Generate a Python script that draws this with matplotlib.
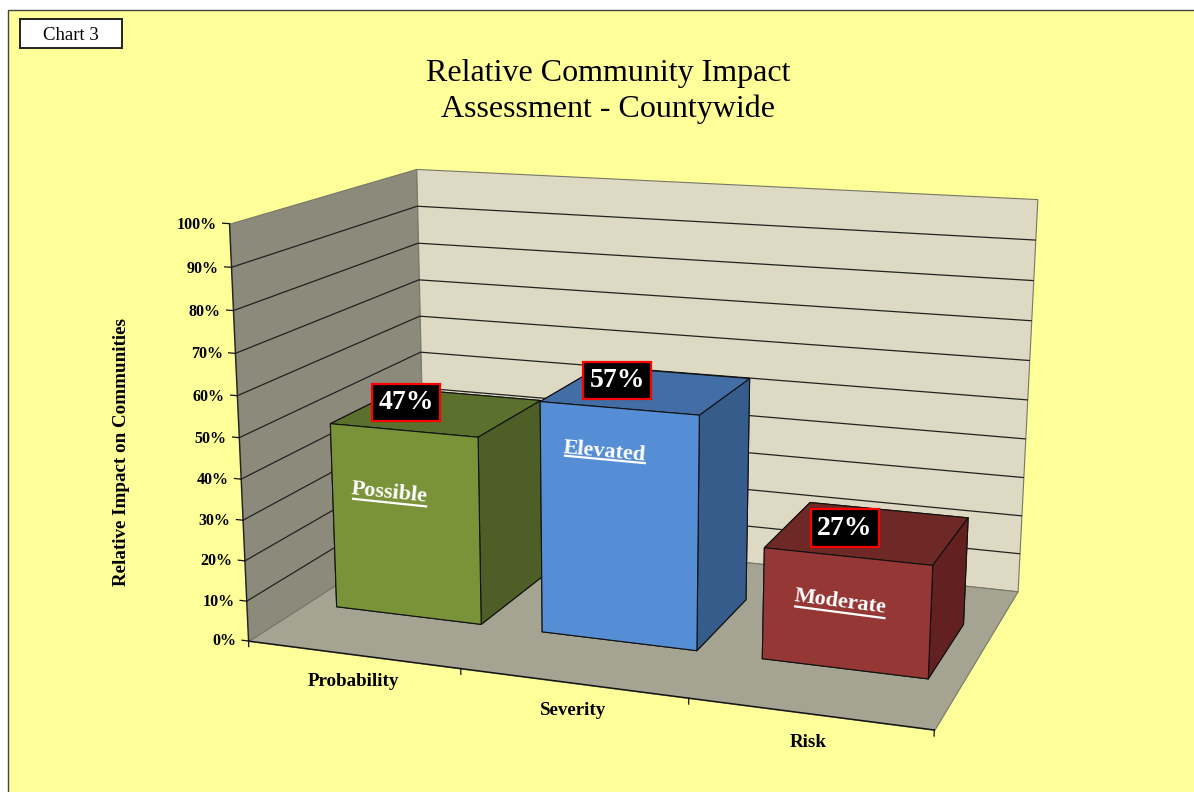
import matplotlib
matplotlib.use('Agg')
import matplotlib.pyplot as plt
import numpy as np
from matplotlib.patches import Rectangle
from mpl_toolkits.mplot3d import proj3d
from mpl_toolkits.mplot3d.art3d import Poly3DCollection

plt.rcParams['font.family'] = ['Liberation Serif', 'DejaVu Serif']

W, H = 1194, 792

# Chart data
categories = ['Probability', 'Severity', 'Risk']
values = [47, 57, 27]
ratings = ['Possible', 'Elevated', 'Moderate']
value_ticks = list(range(0, 101, 10))

front_colors = ['#7A9339', '#558ED5', '#953735']
top_colors = ['#5A702C', '#426EA5', '#6E2826']
side_colors = ['#4D5F27', '#355C8A', '#622120']

# Camera fitted from where the room's corners and axis ticks sit on the canvas (px)
room_points = [
    (0, 0, 0, 250, 640), (3, 0, 0, 934, 730), (3, 1, 0, 1018, 591), (0, 1, 0, 423, 528),
    (0, 0, 100, 228, 224), (0, 1, 100, 418, 169), (3, 1, 100, 1037, 199),
    (1, 0, 0, 461, 670), (2, 0, 0, 689, 698), (0, 0, 50, 239, 437),
]


def camera_matrix(points):
    rows, rhs = [], []
    for x, y, z, px, py in points:
        v = H - py
        rows.append([x, y, z, 1, 0, 0, 0, 0, -px * x, -px * y, -px * z])
        rhs.append(px)
        rows.append([0, 0, 0, 0, x, y, z, 1, -v * x, -v * y, -v * z])
        rhs.append(v)
    p = np.linalg.lstsq(np.array(rows, float), np.array(rhs, float), rcond=None)[0]
    r1, r2, r4 = p[:4], p[4:8], np.append(p[8:], 1.0)
    # third row only gives a depth for sorting the faces
    return np.array([r1, r2, r4 - [0, 0, 0, 1], r4])


fig = plt.figure(figsize=(W / 100, H / 100), dpi=100, facecolor='white')
fig.add_artist(Rectangle((8 / W, -0.01), 1.1, (H - 9.5) / H + 0.01, transform=fig.transFigure,
                         facecolor='#FFFF99', edgecolor='#444444', linewidth=1.0, zorder=-1))

# Axes3D forces a square box, so let it overflow the canvas vertically
ax = fig.add_axes([0, -(W - H) / 2 / H, 1, W / H], projection='3d', computed_zorder=False)
ax.set_axis_off()
ax.patch.set_visible(False)
ax.set_proj_type('ortho')  # keeps Line3D from clipping against the unit cube
ax.viewLim.intervalx = (0, W)
ax.viewLim.intervaly = (-(W - H) / 2, H + (W - H) / 2)
M = camera_matrix(room_points)
ax.get_proj = lambda: M


def label(x, y, z, s, along=None, **kw):
    # place text at a 3D point; along= turns it to follow a 3D direction
    px, py, _ = proj3d.proj_transform(x, y, z, M)
    angle = 0
    if along is not None:
        qx, qy, _ = proj3d.proj_transform(x + along[0], y + along[1], z + along[2], M)
        angle = np.degrees(np.arctan2(qy - py, qx - px))
    return ax.text2D(px, py, s, transform=ax.transData, rotation=angle, rotation_mode='anchor',
                     ha=kw.pop('ha', 'center'), va=kw.pop('va', 'center'), **kw)


# Walls and floor
left_wall = [(0, 0, 0), (0, 1, 0), (0, 1, 100), (0, 0, 100)]
back_wall = [(0, 1, 0), (3, 1, 0), (3, 1, 100), (0, 1, 100)]
floor = [(0, 0, 0), (3, 0, 0), (3, 1, 0), (0, 1, 0)]
for verts, color in [(left_wall, '#8C8A7A'), (back_wall, '#DDD9C3'), (floor, '#A5A391')]:
    ax.add_collection3d(Poly3DCollection([verts], facecolors=color, edgecolors='#77776A',
                                         linewidths=0.8, zorder=1))

# Gridlines run along the left wall, then across the back wall
for v in value_ticks[1:-1]:
    ax.plot([0, 0, 3], [0, 1, 1], [v, v, v], color='#222222', lw=0.9, zorder=2)

ax.plot([0, 3], [0, 0], [0, 0], color='#111111', lw=1.0, zorder=2)
ax.plot([0, 0], [0, 0], [0, 100], color='#222222', lw=1.0, zorder=2)

# Value axis ticks and labels
for v in value_ticks:
    ax.plot([-0.032, 0], [0, 0], [v, v], color='#111111', lw=0.9, zorder=2)
    label(-0.06, 0, v - 0.5, f'{v}%', ha='right', fontsize=11.5, fontweight='bold', zorder=9)

# Category ticks and labels
for k in range(4):
    ax.plot([k, k], [0, 0], [0, -1.4], color='#111111', lw=0.9, zorder=2)
for i, name in enumerate(categories):
    label(i + 0.5, 0, -6.6, name, fontsize=13.7, fontweight='bold', zorder=9)

# Bars
bar_x = 0.148
bar_w = 0.71
bar_y = 0.30
bar_d = 0.40
for i, v in enumerate(values):
    colors = ['#333333', top_colors[i], front_colors[i], '#333333', '#333333', side_colors[i]]
    ax.bar3d([i + bar_x], [bar_y], [0], bar_w, bar_d, [v], color=colors, shade=False,
             edgecolor='#111111', linewidth=0.8, zorder=3 + i)

# Rating written on the front face of each bar, with its underline
name_x = [0.426, 0.44, 0.476]
name_half = [0.178, 0.18, 0.19]
name_drop = [16, 10.75, 11]
name_gap = [2.5, 1.8, 2.5]
name_tilt = [0, 0, -1]
for i, v in enumerate(values):
    z = v - name_drop[i]
    label(i + name_x[i], bar_y, z, ratings[i], along=(1, 0, name_tilt[i]),
          color='white', fontsize=16, fontweight='bold', zorder=10)
    ax.plot([i + name_x[i] - name_half[i], i + name_x[i] + name_half[i]], [bar_y, bar_y],
            [z - name_gap[i] - name_tilt[i] * name_half[i], z - name_gap[i] + name_tilt[i] * name_half[i]],
            color='white', lw=1.6, zorder=10)

# Value boxes
box_x = [0.295, 0.325, 0.395]
box_y = [0.56, 0.56, 0.51]
for i, v in enumerate(values):
    label(i + box_x[i], box_y[i], v + 0.2, f'{v}%', color='white',
          fontsize=20, fontweight='bold', zorder=11,
          bbox=dict(boxstyle='square,pad=0.22', facecolor='black', edgecolor='#FF0000', linewidth=1.6))

# Text outside the plot
fig.text(608 / W, 1 - 91.5 / H, 'Relative Community Impact\nAssessment - Countywide', ha='center', va='center',
         fontsize=23, linespacing=1.25)
fig.text(121 / W, 1 - 452 / H, 'Relative Impact on Communities', rotation=90, ha='center', va='center',
         fontsize=13.7, fontweight='bold')
fig.add_artist(Rectangle((20 / W, 1 - 48 / H), 102 / W, 29 / H, transform=fig.transFigure, facecolor='white',
                         edgecolor='#222222', linewidth=1.4, zorder=2))
fig.text(71 / W, 1 - 35 / H, 'Chart 3', ha='center', va='center', fontsize=13.5, zorder=3)

fig.savefig('out.png', dpi=100)
